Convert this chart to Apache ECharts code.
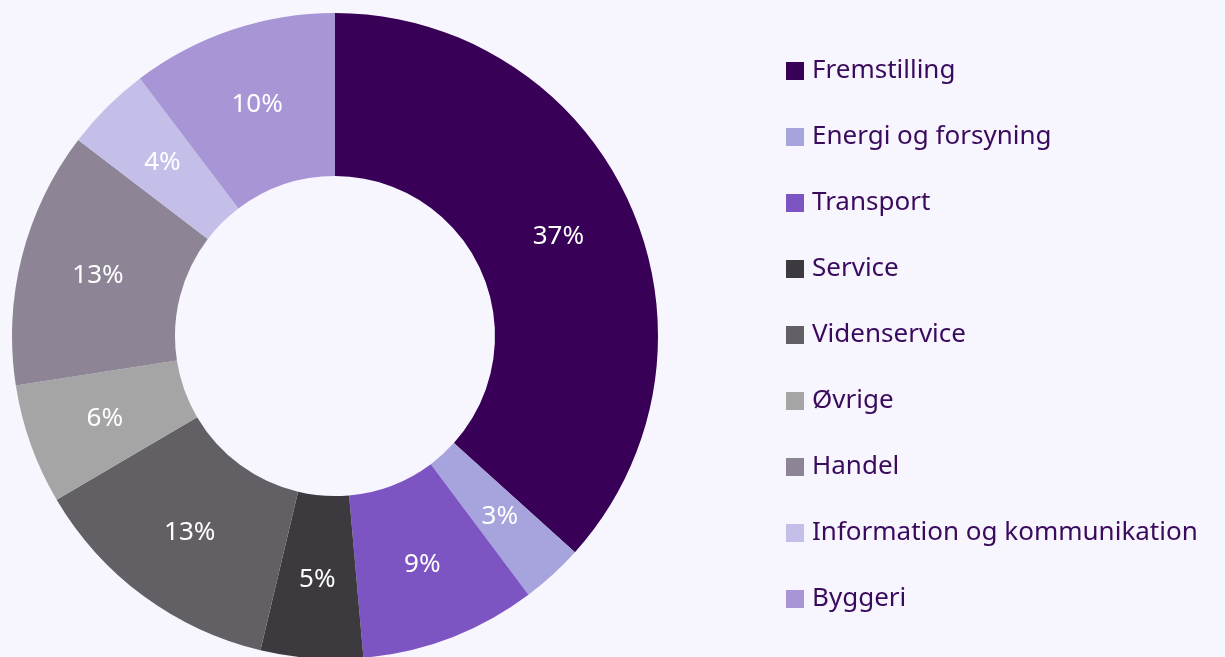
<!DOCTYPE html>
<html><head><meta charset="utf-8">
<script src="https://cdn.jsdelivr.net/npm/echarts@6/dist/echarts.min.js"></script>
<style>html,body{margin:0;padding:0;background:#f7f5fe;}#c{width:1225px;height:657px;}</style>
</head><body><div id="c"></div>
<script>
const categories = ['Fremstilling','Energi og forsyning','Transport','Service','Videnservice','Øvrige','Handel','Information og kommunikation','Byggeri'];
const values = [36.6, 3.1, 8.8, 5.1, 12.8, 6.0, 12.8, 4.3, 10.3];
const colors = ['#390057','#a7a3dd','#7d55c3','#3c393f','#636065','#a5a5a5','#8d8496','#c3bfe9','#a895d6'];

const chart = echarts.init(document.getElementById('c'));
chart.setOption({
  backgroundColor: '#f7f5fe',
  animation: false,
  color: colors,
  legend: {
    orient: 'vertical', left: 786, top: 58, padding: 0,
    icon: 'rect', itemWidth: 18, itemHeight: 18, itemGap: 40,
    textStyle: { fontFamily: 'Noto Sans', fontSize: 26, lineHeight: 26, color: '#3a0a5c', padding: [0,0,0,3] },
    data: categories
  },
  series: [{
    type: 'pie',
    center: [335, 336],
    radius: [160, 323],
    startAngle: 90,
    clockwise: true,
    avoidLabelOverlap: false,
    label: {
      show: true, position: 'inside',
      color: '#ffffff', fontFamily: 'Noto Sans', fontSize: 26,
      formatter: p => Math.round(p.percent) + '%'
    },
    labelLine: { show: false },
    itemStyle: { borderWidth: 0 },
    emphasis: { disabled: true },
    data: categories.map((n, i) => ({ name: n, value: values[i] }))
  }]
});
</script></body></html>
